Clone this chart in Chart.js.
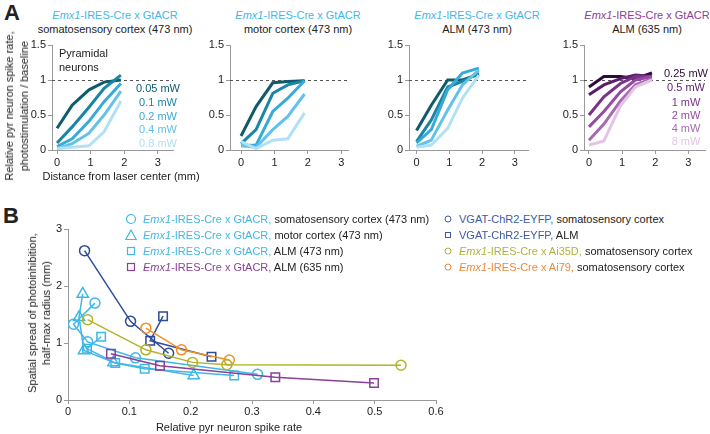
<!DOCTYPE html>
<html>
<head>
<meta charset="utf-8">
<script src="https://cdn.jsdelivr.net/npm/chart.js@4.4.0/dist/chart.umd.min.js"></script>
<style>
  body { margin: 0; width: 710px; height: 434px; position: relative; overflow: hidden; background: #fff;
         font-family: "Liberation Sans", Arial, sans-serif; color: #222; }
  canvas { position: absolute; }
  .t { position: absolute; font-size: 11px; line-height: 14px; white-space: nowrap; text-align: center; transform: translate(-50%, -50%); }
  .rot { transform: translate(-50%, -50%) rotate(-90deg); line-height: 15px; }
  .lab { position: absolute; font-size: 22px; font-weight: bold; }
  .cy { color: #3fb8e8; }
  .pu { color: #8b3f98; }
  .db { color: #3d5aa6; }
  .ol { color: #b0b33a; }
  .or { color: #f0883a; }
  .lg { position: absolute; font-size: 11px; line-height: 14px; white-space: nowrap; transform: translateY(-50%); }
  .mk { position: absolute; transform: translate(-50%, -50%); }
</style>
</head>
<body>
<div class="lab" style="left:4px;top:0px">A</div>
<div class="lab" style="left:3px;top:203px">B</div>

<!-- panel A titles -->
<div class="t" style="left:115px;top:22px"><span class="cy"><i>Emx1</i>-IRES-Cre x GtACR</span><br>somatosensory cortex (473 nm)</div>
<div class="t" style="left:298px;top:22px"><span class="cy"><i>Emx1</i>-IRES-Cre x GtACR</span><br>motor cortex (473 nm)</div>
<div class="t" style="left:477px;top:22px"><span class="cy"><i>Emx1</i>-IRES-Cre x GtACR</span><br>ALM (473 nm)</div>
<div class="t" style="left:647px;top:22px"><span class="pu"><i>Emx1</i>-IRES-Cre x GtACR</span><br>ALM (635 nm)</div>

<canvas id="a1" width="190" height="145" style="left:0px;top:30px"></canvas>
<canvas id="a2" width="160" height="145" style="left:200px;top:30px"></canvas>
<canvas id="a3" width="160" height="145" style="left:379px;top:30px"></canvas>
<canvas id="a4" width="156" height="145" style="left:554px;top:30px"></canvas>

<div class="t rot" style="left:17px;top:106px">Relative pyr neuron spike rate,<br>photostimulation / baseline</div>
<div class="t" style="left:121px;top:176px">Distance from laser center (mm)</div>
<div class="t" style="left:59px;top:60px;transform:translateY(-50%);text-align:left">Pyramidal<br>neurons</div>
<div id="labs1"></div>
<div id="labs4"></div>

<canvas id="b" width="450" height="234" style="left:0px;top:200px"></canvas>
<div class="t rot" style="left:39px;top:313px;line-height:14px">Spatial spread of photoinhibition,<br>half-max radius (mm)</div>
<div class="t" style="left:229px;top:427px">Relative pyr neuron spike rate</div>

<!-- panel B legend -->
<svg class="mk" width="12" height="12" style="left:131px;top:219px"><circle cx="6" cy="6" r="4.5" fill="none" stroke="#3fb8e8" stroke-width="1.2"/></svg>
<div class="lg" style="left:143px;top:219px"><span class="cy"><i>Emx1</i>-IRES-Cre x GtACR,</span> somatosensory cortex (473 nm)</div>
<svg class="mk" width="12" height="12" style="left:131px;top:235px"><polygon points="6,1 11.2,10.5 0.8,10.5" fill="none" stroke="#3fb8e8" stroke-width="1.2"/></svg>
<div class="lg" style="left:143px;top:235px"><span class="cy"><i>Emx1</i>-IRES-Cre x GtACR,</span> motor cortex (473 nm)</div>
<svg class="mk" width="12" height="12" style="left:131px;top:251px"><rect x="2.5" y="2.5" width="7" height="7" fill="none" stroke="#3fb8e8" stroke-width="1.2"/></svg>
<div class="lg" style="left:143px;top:251px"><span class="cy"><i>Emx1</i>-IRES-Cre x GtACR,</span> ALM (473 nm)</div>
<svg class="mk" width="12" height="12" style="left:131px;top:267px"><rect x="2.5" y="2.5" width="7" height="7" fill="none" stroke="#8b3f98" stroke-width="1.2"/></svg>
<div class="lg" style="left:143px;top:267px"><span class="pu"><i>Emx1</i>-IRES-Cre x GtACR,</span> ALM (635 nm)</div>

<svg class="mk" width="10" height="10" style="left:448px;top:219px"><circle cx="5" cy="5" r="3" fill="none" stroke="#3d5aa6" stroke-width="1"/></svg>
<div class="lg" style="left:459px;top:219px"><span class="db">VGAT-ChR2-EYFP,</span> somatosensory cortex</div>
<svg class="mk" width="10" height="10" style="left:448px;top:235px"><rect x="2.5" y="2.5" width="5" height="5" fill="none" stroke="#3d5aa6" stroke-width="1"/></svg>
<div class="lg" style="left:459px;top:235px"><span class="db">VGAT-ChR2-EYFP,</span> ALM</div>
<svg class="mk" width="10" height="10" style="left:448px;top:251px"><circle cx="5" cy="5" r="3" fill="none" stroke="#b0b33a" stroke-width="1"/></svg>
<div class="lg" style="left:459px;top:251px"><span class="ol"><i>Emx1</i>-IRES-Cre x Ai35D,</span> somatosensory cortex</div>
<svg class="mk" width="10" height="10" style="left:448px;top:267px"><circle cx="5" cy="5" r="3" fill="none" stroke="#f0883a" stroke-width="1"/></svg>
<div class="lg" style="left:459px;top:267px"><span class="or"><i>Emx1</i>-IRES-Cre x Ai79,</span> somatosensory cortex</div>

<script>
// Panel A: distance from laser center (mm)
const distance = [0, 0.45, 0.95, 1.4, 1.9];
const aXTicks = [0, 1, 2, 3];
const aYTicks = [0, 0.5, 1, 1.5];

// somatosensory cortex (473 nm)
const powers473 = ['0.05 mW', '0.1 mW', '0.2 mW', '0.4 mW', '0.8 mW'];
const ss005 = [0.31, 0.64, 0.86, 0.97, 1.00];
const ss01  = [0.10, 0.33, 0.61, 0.88, 1.07];
const ss02  = [0.05, 0.16, 0.41, 0.69, 0.95];
const ss04  = [0.02, 0.09, 0.24, 0.50, 0.84];
const ss08  = [0.02, 0.04, 0.06, 0.26, 0.70];

// motor cortex (473 nm)
const mo005 = [0.20, 0.62, 0.96, 0.98, 0.99];
const mo01  = [0.09, 0.29, 0.81, 0.93, 0.99];
const mo02  = [0.06, 0.07, 0.55, 0.74, 0.99];
const mo04  = [0.06, 0.04, 0.29, 0.48, 0.80];
const mo08  = [0.12, 0.02, 0.14, 0.16, 0.53];

// ALM (473 nm)
const alm005 = [0.28, 0.64, 1.00, 1.00, 1.08];
const alm01  = [0.12, 0.43, 0.90, 0.98, 1.10];
const alm02  = [0.10, 0.29, 0.86, 1.10, 1.17];
const alm04  = [0.05, 0.14, 0.57, 0.93, 1.14];
const alm08  = [0.04, 0.07, 0.31, 0.74, 1.07];

// ALM (635 nm)
const powers635 = ['0.25 mW', '0.5 mW', '1 mW', '2 mW', '4 mW', '8 mW'];
const red025 = [0.90, 1.05, 1.05, 1.02, 1.10];
const red05  = [0.79, 0.93, 1.02, 1.07, 1.05];
const red1   = [0.50, 0.76, 0.95, 1.05, 1.05];
const red2   = [0.33, 0.55, 0.83, 1.00, 1.05];
const red4   = [0.14, 0.37, 0.70, 0.93, 1.02];
const red8   = [0.07, 0.13, 0.63, 0.90, 1.00];

const blues = ['#0f5a6c', '#1b85a7', '#37aad8', '#62c2ea', '#b2e0f4'];
const purples = ['#2d0b3a', '#5a1d6b', '#7b3189', '#944ba1', '#a968b4', '#e3c4e4'];

// Panel B: spike rate (x) vs half-max radius (y)
const bXTicks = [0, 0.1, 0.2, 0.3, 0.4, 0.5, 0.6];
const bYTicks = [0, 1, 2, 3];
const gtSsX  = [0.044, 0.009, 0.032, 0.110, 0.309];
const gtSsY  = [1.70, 1.33, 1.02, 0.74, 0.45];
const gtMoX  = [0.024, 0.018, 0.026, 0.074, 0.205];
const gtMoY  = [1.86, 1.45, 0.87, 0.66, 0.43];
const gtAlmX = [0.054, 0.031, 0.077, 0.125, 0.271];
const gtAlmY = [1.11, 0.90, 0.65, 0.55, 0.43];
const gtRedX = [0.070, 0.150, 0.338, 0.499];
const gtRedY = [0.81, 0.60, 0.40, 0.30];
const vgSsX  = [0.027, 0.102, 0.164];
const vgSsY  = [2.62, 1.38, 0.82];
const vgAlmX = [0.155, 0.134, 0.234];
const vgAlmY = [1.47, 1.04, 0.76];
const ai35X  = [0.032, 0.127, 0.203, 0.259, 0.543];
const ai35Y  = [1.41, 0.88, 0.66, 0.62, 0.61];
const ai79X  = [0.127, 0.185, 0.263];
const ai79Y  = [1.26, 0.88, 0.70];

const FONT = { family: '"Liberation Sans", Arial, sans-serif', size: 11 };
const AXIS = '#999';

// dashed line at baseline = 1
const baseline = {
  id: 'baseline',
  beforeDatasetsDraw(chart) {
    const { ctx, chartArea: a, scales: { y } } = chart;
    const py = Math.round(y.getPixelForValue(1)) + 0.5;
    ctx.save();
    ctx.setLineDash([3, 3]);
    ctx.strokeStyle = '#555';
    ctx.lineWidth = 1;
    ctx.beginPath();
    ctx.moveTo(a.left, py);
    ctx.lineTo(a.right, py);
    ctx.stroke();
    ctx.restore();
  }
};

function axisOpts(ticks, extra) {
  return Object.assign({
    type: 'linear',
    afterBuildTicks: s => { s.ticks = ticks.map(v => ({ value: v })); },
    ticks: { font: FONT, color: '#222', padding: 2, callback: v => String(v) },
    grid: { drawOnChartArea: false, tickLength: 4, color: AXIS },
    border: { color: AXIS }
  }, extra);
}

function makeA(id, xMin, xMax, padRight, series, colors) {
  new Chart(document.getElementById(id), {
    type: 'line',
    data: {
      datasets: series.map((s, i) => ({
        data: distance.map((d, j) => ({ x: d, y: s[j] })),
        borderColor: colors[i],
        borderWidth: 3,
        pointRadius: 0,
        tension: 0
      })).reverse()
    },
    options: {
      responsive: false,
      animation: false,
      layout: { padding: { top: 15, right: padRight, left: 0, bottom: 0 } },
      plugins: { legend: { display: false }, tooltip: { enabled: false } },
      scales: {
        x: axisOpts(aXTicks, { min: xMin, max: xMax, afterFit: s => { s.height = 25; } }),
        y: axisOpts(aYTicks, { min: 0, max: 1.5, afterFit: s => { s.width = id === 'a1' ? 52 : 30; } })
      }
    },
    plugins: [baseline]
  });
}

makeA('a1', -0.15, 3.45, 17, [ss005, ss01, ss02, ss04, ss08], blues);
makeA('a2', -0.33, 3.2, 12, [mo005, mo01, mo02, mo04, mo08], blues);
makeA('a3', -0.23, 3.4, 11, [alm005, alm01, alm02, alm04, alm08], blues);
makeA('a4', -0.15, 3.5, 5, [red025, red05, red1, red2, red4, red8], purples);

// power labels
const y473 = [88, 102, 116, 129, 143];
const y635 = [73, 87, 102, 115, 128, 141];
document.getElementById('labs1').innerHTML = powers473.map((p, i) =>
  `<div class="t" style="left:158px;top:${y473[i]}px;color:${blues[i]}">${p}</div>`).join('');
document.getElementById('labs4').innerHTML = powers635.map((p, i) =>
  `<div class="t" style="left:686px;top:${y635[i]}px;color:${purples[i]}">${p}</div>`).join('');

function pts(xs, ys) { return xs.map((x, i) => ({ x, y: ys[i] })); }
function series(xs, ys, color, style, r) {
  return {
    data: pts(xs, ys), showLine: true, borderColor: color, borderWidth: 1.5,
    pointStyle: style, pointRadius: r, pointBorderColor: color, pointBorderWidth: 1.5,
    pointBackgroundColor: 'rgba(255,255,255,0)', tension: 0
  };
}

new Chart(document.getElementById('b'), {
  type: 'scatter',
  data: {
    datasets: [
      series(ai35X, ai35Y, '#b2b327', 'circle', 5),
      series(gtRedX, gtRedY, '#8b3f98', 'rect', 6),
      series(gtAlmX, gtAlmY, '#3fb8e8', 'rect', 6),
      series(gtMoX, gtMoY, '#3fb8e8', 'triangle', 6.5),
      series(gtSsX, gtSsY, '#3fb8e8', 'circle', 5),
      series(ai79X, ai79Y, '#f29027', 'circle', 5),
      series(vgAlmX, vgAlmY, '#2c4b9b', 'rect', 6),
      series(vgSsX, vgSsY, '#2c4b9b', 'circle', 5)
    ]
  },
  options: {
    responsive: false,
    animation: false,
    layout: { padding: { top: 29, right: 14, left: 0, bottom: 0 } },
    plugins: { legend: { display: false }, tooltip: { enabled: false } },
    scales: {
      x: axisOpts(bXTicks, { min: 0, max: 0.6, ticks: { font: FONT, color: '#222', padding: 1, callback: v => String(v) }, afterFit: s => { s.height = 34; } }),
      y: axisOpts(bYTicks, { min: 0, max: 3, afterFit: s => { s.width = 68; } })
    }
  }
});
</script>
</body>
</html>
